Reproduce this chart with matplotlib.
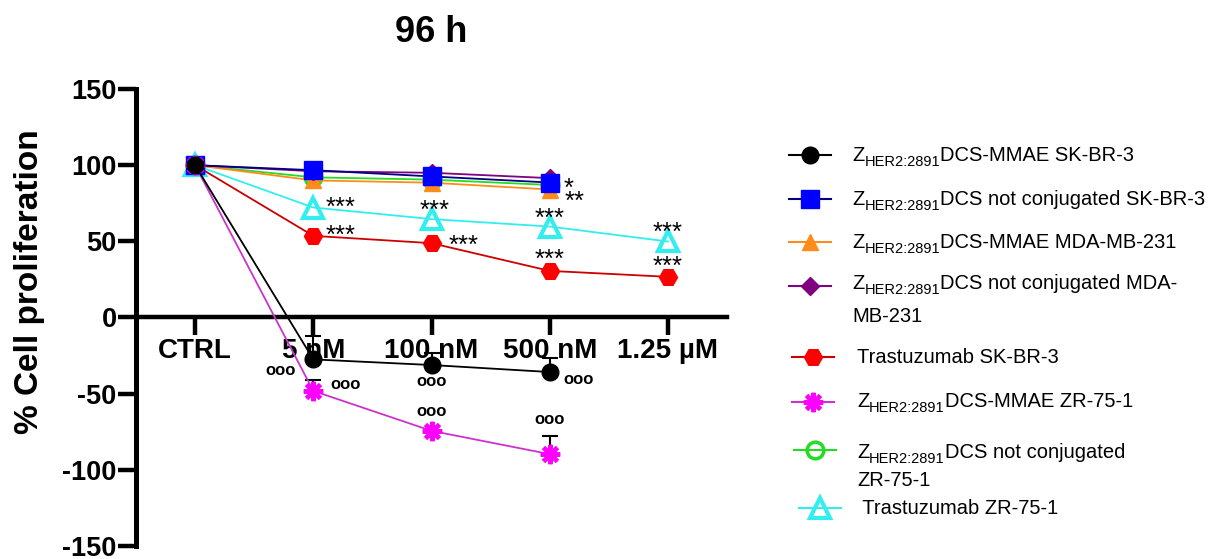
import matplotlib
matplotlib.use("Agg")
import matplotlib.pyplot as plt
from matplotlib.lines import Line2D

plt.rcParams['font.family'] = ['Liberation Sans', 'DejaVu Sans']

# ---------------- data ----------------
categories = ["CTRL", "5 nM", "100 nM", "500 nM", "1.25 \u00b5M"]

mmae_skbr3 = [100, -27.5, -31.2, -35.8]
mmae_skbr3_err = [0, 15.5, 8, 9.5]
notconj_skbr3 = [100, 96.7, 92.6, 88.6]
mmae_mda = [100, 90, 88.5, 84]
notconj_mda = [100, 96, 95, 91.5]
trast_skbr3 = [100, 53.6, 48.8, 30.6, 26.7]
mmae_zr751 = [100, -48.2, -74.4, -89.7]
mmae_zr751_err = [0, 7, 0, 12]
notconj_zr751 = [100, 92, 90.5, 87]
trast_zr751 = [100, 72.2, 64.6, 59.7, 49.9]

# significance annotations: (x index, y, label)
stars = [(1.23, 77, '***'), (1.23, 58.6, '***'), (2.03, 75.5, '***'),
         (2.27, 51.9, '***'), (3.16, 89.7, '*'), (3.21, 81, '**'),
         (3.0, 70, '***'), (3.0, 43, '***'), (4.0, 61, '***'), (4.0, 38.7, '***')]
rings = [(0.725, -35), (1.27, -44.3), (2.0, -42), (2.0, -61.8),
         (3.24, -41), (3.0, -66.8)]

# legend entries: (prefix, subscript, rest of first line, second line)
legend_labels = [
    ("Z", "HER2:2891", "DCS-MMAE SK-BR-3", None),
    ("Z", "HER2:2891", "DCS not conjugated SK-BR-3", None),
    ("Z", "HER2:2891", "DCS-MMAE MDA-MB-231", None),
    ("Z", "HER2:2891", "DCS not conjugated MDA-", "MB-231"),
    ("", "", "Trastuzumab SK-BR-3", None),
    ("Z", "HER2:2891", "DCS-MMAE ZR-75-1", None),
    ("Z", "HER2:2891", "DCS not conjugated", "ZR-75-1"),
    ("", "", " Trastuzumab ZR-75-1", None),
]

# ---------------- figure ----------------
W, H = 1214, 559
fig = plt.figure(figsize=(W / 100, H / 100), dpi=100)
ax = fig.add_axes([136 / W, 1 - 546 / H, (727 - 136) / W, (546 - 89) / H])
ax.set_facecolor('none')
for sp in ['top', 'right']:
    ax.spines[sp].set_visible(False)
ax.spines['bottom'].set_position(('data', 0))
ax.spines['bottom'].set_linewidth(3.2)
ax.spines['left'].set_linewidth(3.6)

ast = (8, 2, 0)
styles = [
    dict(data=notconj_zr751, mfc='none', mec='#22DD22', marker='o', ms=12, mew=2.5, lc='#22DD22'),
    dict(data=mmae_mda, mfc='#FF8C1A', mec='#FF8C1A', marker='^', ms=12, mew=1, lc='#FF8C1A'),
    dict(data=notconj_mda, mfc='#800080', mec='#800080', marker='D', ms=9, mew=1, lc='#800080'),
    dict(data=trast_zr751, mfc='none', mec='#33EEEE', marker='^', ms=15, mew=3, lc='#33EEEE'),
    dict(data=trast_skbr3, mfc='#FF0000', mec='#FF0000', marker='H', ms=13, mew=1, lc='#CC0000'),
    dict(data=notconj_skbr3, mfc='#0000FF', mec='#0000FF', marker='s', ms=12.5, mew=1, lc='#000080'),
]
for s in styles:
    xs = list(range(len(s['data'])))
    ax.plot(xs, s['data'], color=s['lc'], lw=1.3, marker=s['marker'], ms=s['ms'],
            mfc=s['mfc'], mec=s['mec'], mew=s['mew'], zorder=3)

# magenta with upper error bars
xs = list(range(len(mmae_zr751)))
ax.errorbar(xs, mmae_zr751, yerr=[[0] * len(mmae_zr751), mmae_zr751_err], fmt='none',
            ecolor='black', elinewidth=1.5, capsize=6, capthick=1.5, zorder=2)
ax.plot(xs, mmae_zr751, color='#CC33CC', lw=1.3, marker=ast, ms=14, mfc='#FF00FF',
        mec='#FF00FF', mew=3, zorder=4)
# black with upper error bars
xs = list(range(len(mmae_skbr3)))
ax.errorbar(xs, mmae_skbr3, yerr=[[0] * len(mmae_skbr3), mmae_skbr3_err], fmt='none',
            ecolor='black', elinewidth=1.5, capsize=6, capthick=1.5, zorder=2)
ax.plot(xs, mmae_skbr3, color='black', lw=1.3, marker='o', ms=12, mfc='black',
        mec='black', zorder=5)

for (x, y, t) in stars:
    ax.annotate(t, (x, y), xytext=(0, -0.58 * 18.5), textcoords='offset points',
                ha='center', va='baseline', fontsize=18.5, zorder=6)
for (x, y) in rings:
    ax.annotate('ooo', (x, y), xytext=(0, -0.26 * 12), textcoords='offset points',
                ha='center', va='baseline', fontsize=12, fontweight='bold', zorder=6)

ax.set_xlim(-0.5, 4.5)
ax.set_ylim(-150, 150)
ax.set_yticks([-150, -100, -50, 0, 50, 100, 150])
ax.set_yticklabels(['-150', '-100', '-50', '0', '50', '100', '150'])
ax.set_xticks(range(len(categories)))
ax.set_xticklabels(categories)
ax.tick_params(axis='y', length=13, width=3.2, pad=1, labelsize=19.5)
ax.tick_params(axis='x', length=13, width=3.2, pad=2, direction='out', labelsize=20)
for lab in ax.get_xticklabels() + ax.get_yticklabels():
    lab.set_fontweight('bold')

fig.text(30 / W, 1 - 282 / H, '% Cell proliferation', rotation=90, fontsize=24,
         fontweight='bold', ha='center', va='center')
fig.text(431 / W, 1 - 42 / H, '96 h', fontsize=26, fontweight='bold',
         ha='center', va='baseline')

# ---------------- legend ----------------
lax = fig.add_axes([0, 0, 1, 1])
lax.set_xlim(0, W)
lax.set_ylim(H, 0)
lax.axis('off')
leg_styles = [
    dict(lc='black', marker='o', ms=12, mfc='black', mec='black', mew=1),
    dict(lc='#000080', marker='s', ms=12.5, mfc='#0000FF', mec='#0000FF', mew=1),
    dict(lc='#FF8C1A', marker='^', ms=12, mfc='#FF8C1A', mec='#FF8C1A', mew=1),
    dict(lc='#800080', marker='D', ms=9, mfc='#800080', mec='#800080', mew=1),
    dict(lc='#CC0000', marker='H', ms=13, mfc='#FF0000', mec='#FF0000', mew=1),
    dict(lc='#CC33CC', marker=ast, ms=14, mfc='#FF00FF', mec='#FF00FF', mew=3),
    dict(lc='#22DD22', marker='o', ms=12, mfc='none', mec='#22DD22', mew=2.5),
    dict(lc='#33EEEE', marker='^', ms=15, mfc='none', mec='#33EEEE', mew=3),
]
marker_y = [155, 199, 242, 286, 357, 402, 450, 508]
marker_x = [810, 810, 810, 810, 813, 813, 815, 820]
text_x = [852, 852, 852, 852, 857, 857, 857, 857]
baselines = [[161, None], [205, None], [248, None], [289, 322], [363, None],
             [407, None], [458, 486], [514, None]]
FS, SFS = 14.5, 10.5
renderer = fig.canvas.get_renderer()


def width_px(t):
    return t.get_window_extent(renderer=renderer).width


for i, st in enumerate(leg_styles):
    mx, my = marker_x[i], marker_y[i]
    lax.add_line(Line2D([mx - 21, mx, mx + 21], [my, my, my], lw=1.5, color=st['lc'],
                        marker=st['marker'], ms=st['ms'], mfc=st['mfc'], mec=st['mec'],
                        mew=st['mew'], markevery=[1]))
    pre, sub, rest, line2 = legend_labels[i]
    x0 = text_x[i]
    b = baselines[i][0]
    if pre:
        t = lax.text(x0, b, pre, fontsize=FS, ha='left', va='baseline')
        x0 += width_px(t)
        t = lax.text(x0, b + 5, sub, fontsize=SFS, ha='left', va='baseline')
        x0 += width_px(t)
    lax.text(x0, b, rest, fontsize=FS, ha='left', va='baseline')
    if line2:
        lax.text(text_x[i], baselines[i][1], line2, fontsize=FS, ha='left', va='baseline')

fig.savefig('out.png', dpi=100)
